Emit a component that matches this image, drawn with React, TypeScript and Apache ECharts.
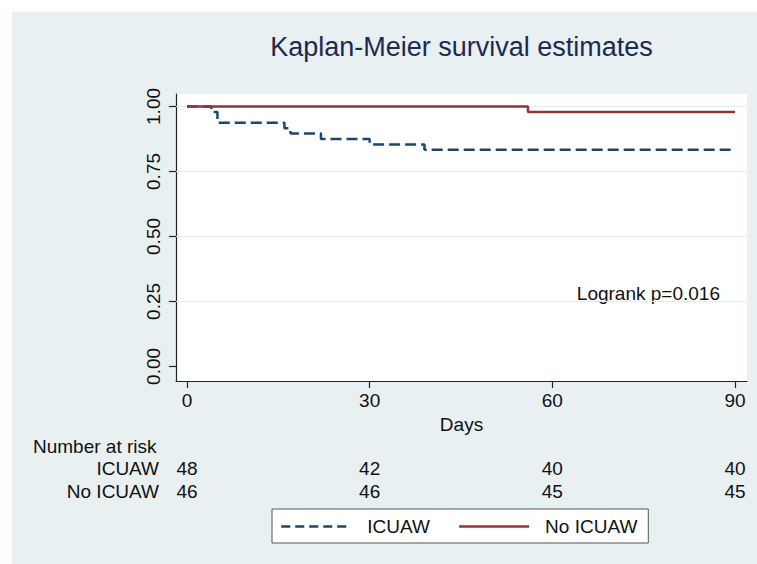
import React, { useEffect, useRef } from "react";
import * as echarts from "echarts";

// ---- data ----
const icuawDays = [0, 4, 5, 16, 17, 22, 30, 39, 90];
const icuawSurv = [1, 0.9792, 0.9375, 0.9167, 0.8958, 0.875, 0.8542, 0.8333, 0.8333];
const noIcuawDays = [0, 56, 90];
const noIcuawSurv = [1, 0.9783, 0.9783];
const groups = ["ICUAW", "No ICUAW"];
const riskDays = [0, 30, 60, 90];
const riskIcuaw = [48, 42, 40, 40];
const riskNoIcuaw = [46, 46, 45, 45];
const xTicks = [0, 30, 60, 90];
const yTicks = [0, 0.25, 0.5, 0.75, 1];
const gridValues = [0.25, 0.5, 0.75, 1];

const FONT = "Liberation Sans, Arial, Helvetica, sans-serif";
const BLUE = "#1a476f";
const RED = "#90353b";
const BG = "#e8f0f2";
const GRIDC = "#e3ecef";
const TXT = "#111111";

export default function App() {
  const ref = useRef<HTMLDivElement>(null);
  useEffect(() => {
    document.body.style.margin = "0";
    const chart = echarts.init(ref.current!, null, { renderer: "svg" });
    const xMin = -1.807;
    const xMax = 91.97;
    const option: any = {
      animation: false,
      backgroundColor: "#ffffff",
      textStyle: { fontFamily: FONT },
      graphic: [
        { type: "rect", z: -10, silent: true, shape: { x: 12, y: 12, width: 745, height: 552 }, style: { fill: BG } },
        {
          type: "text", x: 461.5, y: 47, silent: true,
          style: { text: "Kaplan-Meier survival estimates", fontSize: 27, fontFamily: FONT, fill: "#1c2a52", textAlign: "center", textVerticalAlign: "middle" },
        },
        {
          type: "text", x: 720, y: 293, silent: true,
          style: { text: "Logrank p=0.016", fontSize: 19, fontFamily: FONT, fill: TXT, textAlign: "right", textVerticalAlign: "middle" },
        },
        {
          type: "text", x: 33, y: 446, silent: true,
          style: { text: "Number at risk", fontSize: 19, fontFamily: FONT, fill: TXT, textAlign: "left", textVerticalAlign: "middle" },
        },
      ],
      legend: {
        data: [
          { name: groups[0], lineStyle: { type: [9, 5], width: 2.5 } },
          { name: groups[1], lineStyle: { width: 2.5 } },
        ],
        left: 272,
        top: 509,
        orient: "horizontal",
        backgroundColor: "#ffffff",
        borderColor: "#555555",
        borderWidth: 1,
        borderRadius: 0,
        padding: [8, 11, 7, 8],
        itemWidth: 70,
        itemHeight: 14,
        itemGap: 28,
        itemStyle: { opacity: 0 },
        textStyle: { fontSize: 19, color: TXT, fontFamily: FONT, padding: [0, 0, 0, 11] },
        selectedMode: false,
      },
      grid: [
        { left: 176, top: 94, width: 571, height: 287, show: true, backgroundColor: "#ffffff", borderWidth: 0 },
        { left: 176, top: 457, width: 571, height: 46, show: false },
      ],
      xAxis: [
        {
          type: "value", gridIndex: 0, min: xMin, max: xMax,
          name: "Days", nameLocation: "middle", nameGap: 30,
          nameTextStyle: { fontSize: 19, color: TXT, fontFamily: FONT },
          axisLine: { show: true, onZero: false, lineStyle: { color: "#222", width: 1.2 } },
          axisTick: { show: true, length: 7, customValues: xTicks, lineStyle: { color: "#222", width: 1.2 } },
          axisLabel: { show: true, customValues: xTicks, fontSize: 19, color: TXT, margin: 10, fontFamily: FONT },
          splitLine: { show: false },
        },
        {
          type: "value", gridIndex: 1, min: xMin, max: xMax, show: false,
        },
      ],
      yAxis: [
        {
          type: "value", gridIndex: 0, min: -0.056, max: 1.048,
          axisLine: { show: true, onZero: false, lineStyle: { color: "#222", width: 1.2 } },
          axisTick: { show: true, length: 7, customValues: yTicks, lineStyle: { color: "#222", width: 1.2 } },
          axisLabel: {
            show: true, customValues: yTicks, rotate: 90, fontSize: 19, color: TXT, margin: 13, fontFamily: FONT,
            formatter: (v: number) => v.toFixed(2),
          },
          splitLine: { show: false },
        },
        {
          type: "category", gridIndex: 1, data: groups, inverse: true,
          axisLine: { show: false }, axisTick: { show: false },
          axisLabel: { fontSize: 19, color: TXT, margin: 17, fontFamily: FONT, interval: 0 },
        },
      ],
      series: [
        {
          name: "ICUAW", type: "line", xAxisIndex: 0, yAxisIndex: 0, step: "end", symbol: "none",
          data: icuawDays.map((d, i) => [d, icuawSurv[i]]),
          lineStyle: { color: BLUE, width: 2.5, type: [11, 5] },
          itemStyle: { color: BLUE },
          markLine: {
            silent: true, symbol: "none", label: { show: false },
            lineStyle: { color: GRIDC, width: 1.2, type: "solid" },
            data: gridValues.map((v) => ({ yAxis: v })),
            z: 1,
          },
          z: 3,
        },
        {
          name: "No ICUAW", type: "line", xAxisIndex: 0, yAxisIndex: 0, step: "end", symbol: "none",
          data: noIcuawDays.map((d, i) => [d, noIcuawSurv[i]]),
          lineStyle: { color: RED, width: 2.5, type: "solid" },
          itemStyle: { color: RED },
          z: 4,
        },
        {
          name: "risk", type: "scatter", xAxisIndex: 1, yAxisIndex: 1, symbolSize: 0,
          itemStyle: { color: "transparent", opacity: 1 },
          data: [
            ...riskDays.map((d, i) => [d, groups[0], riskIcuaw[i]]),
            ...riskDays.map((d, i) => [d, groups[1], riskNoIcuaw[i]]),
          ],
          label: {
            show: true, position: "inside", fontSize: 19, color: TXT, fontFamily: FONT, opacity: 1,
            textBorderWidth: 0, textBorderColor: "transparent",
            formatter: (p: any) => String(p.value[2]),
          },
          silent: true,
        },
      ],
    };
    chart.setOption(option);
    return () => chart.dispose();
  }, []);
  return <div ref={ref} style={{ width: 757, height: 564 }} />;
}
